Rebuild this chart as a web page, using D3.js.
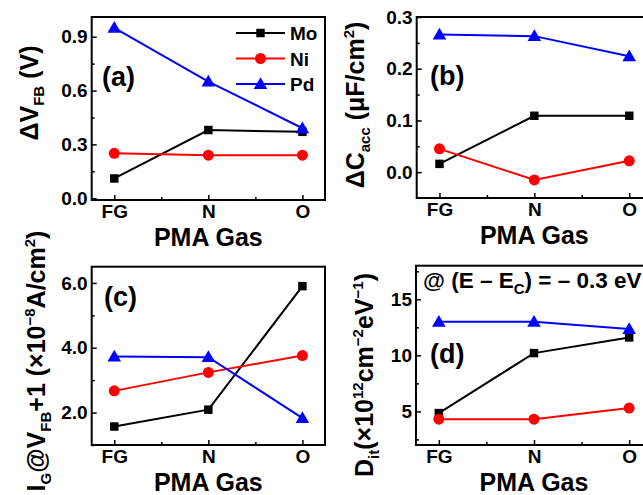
<!DOCTYPE html>
<html>
<head>
<meta charset="utf-8">
<script src="https://cdn.jsdelivr.net/npm/d3@7"></script>
<style>
  body { margin: 0; background: #fff; }
  svg text { font-family: "Liberation Sans", Arial, sans-serif; font-weight: bold; }
</style>
</head>
<body>
<svg width="643" height="495"></svg>
<script>
// categories
const gases = ["FG", "N", "O"];
const metals = ["Mo", "Ni", "Pd"];

// (a) flat-band voltage shift, V
const vfbMo = [0.11, 0.38, 0.37];
const vfbNi = [0.25, 0.24, 0.24];
const vfbPd = [0.95, 0.65, 0.39];

// (b) accumulation capacitance change, uF/cm2
const caccMo = [0.016, 0.109, 0.109];
const caccNi = [0.045, -0.015, 0.022];
const caccPd = [0.266, 0.263, 0.224];

// (c) gate leakage at Vfb+1, x1e-8 A/cm2
const igMo = [1.57, 2.09, 5.9];
const igNi = [2.67, 3.24, 3.76];
const igPd = [3.73, 3.71, 1.83];

// (d) interface trap density, x1e12 cm-2 eV-1
const ditMo = [4.85, 10.2, 11.6];
const ditNi = [4.3, 4.3, 5.3];
const ditPd = [13.0, 13.0, 12.35];

// tick values
const ticksA = [0, 0.3, 0.6, 0.9], minorA = [0.15, 0.45, 0.75];
const ticksB = [0, 0.1, 0.2, 0.3], minorB = [0.05, 0.15, 0.25];
const ticksC = [2, 4, 6], minorC = [1, 3, 5];
const ticksD = [5, 10, 15], minorD = [2.5, 7.5, 12.5, 17.5];

const colors = { Mo: "#000000", Ni: "#ff0000", Pd: "#0000ff" };
const shapes = { Mo: d3.symbolSquare, Ni: d3.symbolCircle, Pd: d3.symbolTriangle };
const sizes = { Mo: 72, Ni: 95, Pd: 80 };

const svg = d3.select("svg");

const panels = [
  { left: 91.7, right: 325, top: 17, bottom: 200, domain: [-0.01, 1.01],
    ticks: ticksA, minor: minorA, fmt: d3.format(".1f"),
    data: { Mo: vfbMo, Ni: vfbNi, Pd: vfbPd }, legend: true,
    label: "(a)", lx: 102, ly: 86,
    title: [["ΔV"], ["FB", "sub"], [" (V)"]], tx: 38, ty: 93 },
  { left: 416.7, right: 652, top: 17, bottom: 198, domain: [-0.05, 0.3],
    ticks: ticksB, minor: minorB, fmt: d3.format(".1f"),
    data: { Mo: caccMo, Ni: caccNi, Pd: caccPd },
    label: "(b)", lx: 430, ly: 85,
    title: [["ΔC"], ["acc", "sub"], [" (μF/cm"], ["2", "sup"], [")"]], tx: 364, ty: 105 },
  { left: 91.7, right: 325, top: 266.7, bottom: 445, domain: [1, 6.5],
    ticks: ticksC, minor: minorC, fmt: d3.format(".1f"),
    data: { Mo: igMo, Ni: igNi, Pd: igPd },
    label: "(c)", lx: 104, ly: 306,
    title: [["I"], ["G", "sub"], ["@V"], ["FB", "sub"], ["+1 (×10"], ["−8", "sup"], ["A/cm"], ["2", "sup"], [")"]],
    tx: 45, ty: 361 },
  { left: 416, right: 652, top: 265.7, bottom: 445, domain: [2, 18],
    ticks: ticksD, minor: minorD, fmt: d3.format("d"),
    data: { Mo: ditMo, Ni: ditNi, Pd: ditPd },
    label: "(d)", lx: 430, ly: 363,
    title: [["D"], ["it", "sub"], ["(×10"], ["12", "sup"], ["cm"], ["−2", "sup"], ["eV"], ["−1", "sup"], [")"]],
    tx: 373, ty: 375 }
];

function richText(sel, parts, big, small) {
  let shift = 0;
  parts.forEach(([s, kind]) => {
    const want = kind === "sub" ? 6 : kind === "sup" ? -10 : 0;
    sel.append("tspan")
      .attr("dy", want - shift)
      .attr("font-size", kind ? small : big)
      .text(s);
    shift = want;
  });
}

panels.forEach(p => {
  const g = svg.append("g");
  const x = d3.scaleLinear().domain([-0.24, 2.24]).range([p.left, p.right]);
  const y = d3.scaleLinear().domain(p.domain).range([p.bottom, p.top]);

  // axes with inward ticks
  g.append("g").attr("transform", `translate(0,${p.bottom})`)
    .call(d3.axisBottom(x).tickValues([0, 1, 2]).tickFormat(i => gases[i])
      .tickSizeInner(-5).tickSizeOuter(0).tickPadding(5));
  g.append("g").attr("transform", `translate(0,${p.bottom})`)
    .call(d3.axisBottom(x).tickValues([0.5, 1.5]).tickFormat("")
      .tickSizeInner(-3).tickSizeOuter(0));
  g.append("g").attr("transform", `translate(${p.left},0)`)
    .call(d3.axisLeft(y).tickValues(p.ticks).tickFormat(p.fmt)
      .tickSizeInner(-5).tickSizeOuter(0).tickPadding(4));
  g.append("g").attr("transform", `translate(${p.left},0)`)
    .call(d3.axisLeft(y).tickValues(p.minor).tickFormat("")
      .tickSizeInner(-3).tickSizeOuter(0));
  g.selectAll(".domain").remove();
  g.selectAll(".tick line").attr("stroke", "#000").attr("stroke-width", 1.5);
  g.selectAll(".tick text").attr("font-size", 19).attr("fill", "#000")
    .attr("font-family", "Liberation Sans, Arial, sans-serif").attr("font-weight", "bold");

  // series
  metals.forEach(m => {
    const vals = p.data[m];
    g.append("path")
      .datum(vals)
      .attr("fill", "none")
      .attr("stroke", colors[m])
      .attr("stroke-width", 2)
      .attr("d", d3.line().x((d, i) => x(i)).y(d => y(d)));
    g.selectAll(null).data(vals).enter().append("path")
      .attr("transform", (d, i) => `translate(${x(i)},${y(d) + (m === "Pd" ? 1 : 0)})`)
      .attr("fill", colors[m])
      .attr("d", d3.symbol().type(shapes[m]).size(sizes[m]));
  });

  // frame
  g.append("rect")
    .attr("x", p.left).attr("y", p.top)
    .attr("width", p.right - p.left).attr("height", p.bottom - p.top)
    .attr("fill", "none").attr("stroke", "#000").attr("stroke-width", 2);

  // x title
  g.append("text")
    .attr("x", x(1)).attr("y", p.bottom + 46)
    .attr("text-anchor", "middle").attr("font-size", 25)
    .text("PMA Gas");

  // y title
  const t = g.append("text")
    .attr("transform", `translate(${p.tx},${p.ty}) rotate(-90)`)
    .attr("text-anchor", "middle");
  richText(t, p.title, 25, 15);

  // panel label
  g.append("text")
    .attr("x", p.lx).attr("y", p.ly)
    .attr("font-size", 27)
    .text(p.label);

  if (p.legend) {
    metals.forEach((m, i) => {
      const ly = 33 + i * 25.5;
      g.append("line")
        .attr("x1", 236).attr("x2", 285).attr("y1", ly).attr("y2", ly)
        .attr("stroke", colors[m]).attr("stroke-width", 2);
      g.append("path")
        .attr("transform", `translate(260.5,${ly + (m === "Pd" ? 1 : 0)})`)
        .attr("fill", colors[m])
        .attr("d", d3.symbol().type(shapes[m]).size(sizes[m]));
      g.append("text")
        .attr("x", 290).attr("y", ly + 7)
        .attr("font-size", 19)
        .text(m);
    });
  }
});

// annotation in panel (d)
const note = svg.append("text").attr("x", 423).attr("y", 288);
richText(note, [["@ (E – E"], ["C", "sub"], [") = – 0.3 eV"]], 22.5, 15);
</script>
</body>
</html>
